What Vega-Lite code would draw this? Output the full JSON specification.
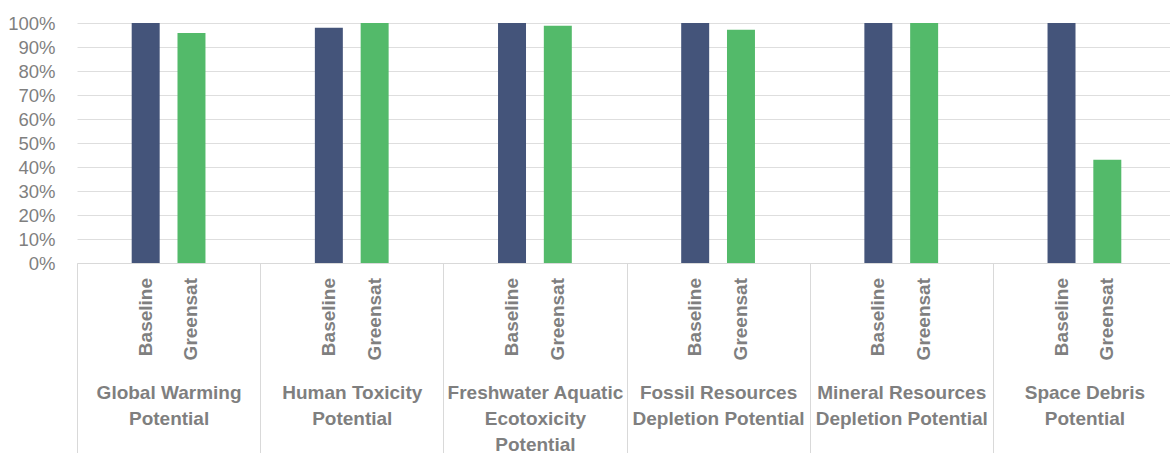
{
  "$schema": "https://vega.github.io/schema/vega-lite/v6.json",
  "autosize": {"type": "none"},
  "padding": {"left": 77, "top": 23, "right": 0, "bottom": 190},
  "width": 1093,
  "height": 240,
  "background": "white",
  "config": {
    "view": {"stroke": null},
    "font": "Liberation Sans"
  },
  "data": {
    "values": [
      {"group": "Global Warming Potential", "series": "Baseline", "value": 1.0},
      {"group": "Global Warming Potential", "series": "Greensat", "value": 0.958},
      {"group": "Human Toxicity Potential", "series": "Baseline", "value": 0.98},
      {"group": "Human Toxicity Potential", "series": "Greensat", "value": 1.0},
      {"group": "Freshwater Aquatic Ecotoxicity Potential", "series": "Baseline", "value": 1.0},
      {"group": "Freshwater Aquatic Ecotoxicity Potential", "series": "Greensat", "value": 0.989},
      {"group": "Fossil Resources Depletion Potential", "series": "Baseline", "value": 1.0},
      {"group": "Fossil Resources Depletion Potential", "series": "Greensat", "value": 0.972},
      {"group": "Mineral Resources Depletion Potential", "series": "Baseline", "value": 1.0},
      {"group": "Mineral Resources Depletion Potential", "series": "Greensat", "value": 1.0},
      {"group": "Space Debris Potential", "series": "Baseline", "value": 1.0},
      {"group": "Space Debris Potential", "series": "Greensat", "value": 0.43}
    ]
  },
  "encoding": {
    "x": {
      "field": "group",
      "type": "nominal",
      "sort": null,
      "scale": {"range": [0, 1099], "paddingInner": 0, "paddingOuter": 0},
      "axis": {
        "title": null,
        "labelAngle": 0,
        "domainColor": "#d9d9d9",
        "tickColor": "#d9d9d9",
        "tickBand": "extent",
        "tickSize": 190,
        "labelPadding": -70,
        "labelBaseline": "top",
        "labelFont": "Liberation Sans",
        "labelFontSize": 19,
        "labelFontWeight": "bold",
        "labelColor": "#7f7f7f",
        "labelLineHeight": 26,
        "labelLimit": 0,
        "labelOverlap": false,
        "labelBound": false,
        "labelFlush": false,
        "labelExpr": "datum.value == 'Global Warming Potential' ? ['Global Warming', 'Potential'] : datum.value == 'Human Toxicity Potential' ? ['Human Toxicity', 'Potential'] : datum.value == 'Freshwater Aquatic Ecotoxicity Potential' ? ['Freshwater Aquatic', 'Ecotoxicity', 'Potential'] : datum.value == 'Fossil Resources Depletion Potential' ? ['Fossil Resources', 'Depletion Potential'] : datum.value == 'Mineral Resources Depletion Potential' ? ['Mineral Resources', 'Depletion Potential'] : datum.value == 'Space Debris Potential' ? ['Space Debris', 'Potential'] : ''"
      }
    },
    "xOffset": {
      "field": "series",
      "type": "nominal",
      "scale": {"domain": ["pad-left", "Baseline", "Greensat", "pad-right"], "paddingInner": 0.389, "paddingOuter": 0.1945}
    }
  },
  "layer": [
    {
      "mark": {"type": "bar"},
      "encoding": {
        "y": {
          "field": "value",
          "type": "quantitative",
          "scale": {"domain": [0, 1], "nice": false},
          "axis": {
            "title": null,
            "values": [0, 0.1, 0.2, 0.3, 0.4, 0.5, 0.6, 0.7, 0.8, 0.9, 1.0],
            "tickCount": 12,
            "format": ".0%",
            "domain": false,
            "ticks": false,
            "labelOverlap": false,
            "labelPadding": 22,
            "labelFont": "Liberation Sans",
            "labelFontSize": 18.5,
            "labelColor": "#7f7f7f",
            "gridColor": "#dedede",
            "gridWidth": 1
          }
        },
        "color": {
          "field": "series",
          "type": "nominal",
          "scale": {"domain": ["Baseline", "Greensat"], "range": ["#44547a", "#53ba6a"]},
          "legend": null
        }
      }
    },
    {
      "mark": {
        "type": "text",
        "angle": 270,
        "align": "right",
        "baseline": "middle",
        "dx": -15,
        "font": "Liberation Sans",
        "fontSize": 19,
        "fontWeight": "bold",
        "color": "#7f7f7f"
      },
      "encoding": {
        "y": {
          "datum": 0,
          "type": "quantitative",
          "axis": {
            "title": null,
            "values": [0, 0.1, 0.2, 0.3, 0.4, 0.5, 0.6, 0.7, 0.8, 0.9, 1.0],
            "tickCount": 12,
            "format": ".0%",
            "domain": false,
            "ticks": false,
            "labelOverlap": false,
            "labelPadding": 22,
            "labelFont": "Liberation Sans",
            "labelFontSize": 18.5,
            "labelColor": "#7f7f7f",
            "gridColor": "#dedede",
            "gridWidth": 1
          }
        },
        "text": {"field": "series"}
      }
    }
  ]
}
